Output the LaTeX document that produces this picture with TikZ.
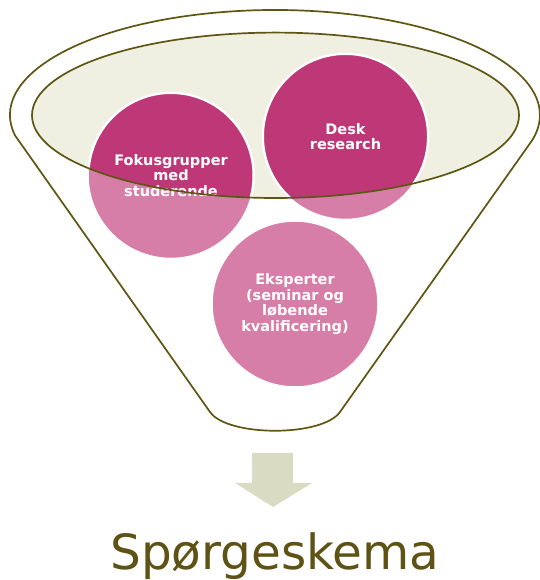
\documentclass[tikz,border=0pt]{standalone}
\usepackage{fontspec}
\usepackage{xcolor}
\usepackage{tikz}
\usetikzlibrary{positioning, calc}
\newfontfamily\funnelfont{DejaVu Sans}
\definecolor{fnolive}{RGB}{94,86,18}
\definecolor{fnmouth}{RGB}{240,240,226}
\definecolor{fndark}{RGB}{190,56,120}
\definecolor{fnlight}{RGB}{214,126,168}
\definecolor{fnarrow}{RGB}{217,220,195}
\definecolor{fntitle}{RGB}{94,82,20}

\begin{document}
\begin{tikzpicture}[x=1pt,y=1pt,
  petal/.style={circle,draw=white,line width=1.5pt,fill=fnlight,minimum size=166pt,inner sep=0pt},
  petaltext/.style={align=center,text=white,font=\funnelfont\bfseries\fontsize{14.5}{15.7}\selectfont}]
\useasboundingbox (0,0) rectangle (539,580);

% Funnel body
\draw[fnolive,line width=1.7pt,fill=white]
  (15,444.6) arc[start angle=191.2,end angle=-14,x radius=265,y radius=105]
  -- (340,168) .. controls (322.3,143) and (227.6,143) .. (210,168) -- cycle;

% Mouth of the funnel
\fill[fnmouth] (275.5,464.7) ellipse[x radius=243.5,y radius=82.7];

% Circles
\node[petal] (fokus) at (171,404.5) {};
\node[petal] (desk) at (345.5,443.5) {};
\node[petal] (eksp) at (295,276) {};

% Darker inside the mouth
\begin{scope}
\clip (275.5,464.7) ellipse[x radius=243.5,y radius=82.7];
\filldraw[fill=fndark,draw=white,line width=1.5pt] (fokus.center) circle[radius=82.25];
\filldraw[fill=fndark,draw=white,line width=1.5pt] (desk.center) circle[radius=82.25];
\end{scope}

% Labels
\node[petaltext] (fokustext) at (fokus) {Fokusgrupper\\med\\studerende};
\node[petaltext] (desktext) at (desk) {Desk\\research};
\node[petaltext] (eksptext) at (eksp) {Eksperter\\(seminar og\\løbende\\kvalificering)};

% Rim of the mouth
\draw[fnolive,line width=1.7pt] (275.5,464.7) ellipse[x radius=243.5,y radius=82.7];

% Arrow down to the result
\fill[fnarrow] (252,127) -- (293,127) -- (293,97) -- (312,97) -- (273,73)
  -- (235,97) -- (252,97) -- cycle;
\node[anchor=base,text=fntitle,font=\funnelfont\fontsize{48.5}{50}\selectfont,inner sep=0pt]
  (result) at (275,10) {Spørgeskema};
\end{tikzpicture}
\end{document}
